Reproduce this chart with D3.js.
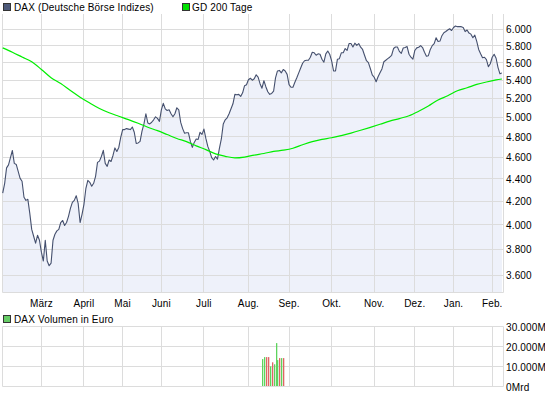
<!DOCTYPE html>
<html><head><meta charset="utf-8">
<script src="https://cdn.jsdelivr.net/npm/d3@7"></script>
<style>
body{margin:0;background:#fff}
svg{display:block}
text{font-family:"Liberation Sans",Arial,sans-serif;font-size:10px;fill:#000;letter-spacing:0.15px}
</style>
</head><body>
<svg id="c" width="545" height="395"></svg>
<script>
// ---- data (trading-day index 0 = early Feb 2009) ----
const dax = [
4270,4355,4500,4528,4597,4665,4542,4532,4468,4403,
4376,4233,4206,4215,4094,3960,3904,3848,3912,3872,
3777,3708,3872,3708,3672,3692,3872,3920,3948,3960,
4017,4034,3992,4017,4069,4137,4189,4206,4247,4180,
4017,4086,4172,4313,4385,4367,4331,4358,4421,4551,
4563,4607,4666,4542,4514,4574,4560,4617,4690,4656,
4695,4793,4872,4872,4882,4877,4872,4898,4845,4734,
4739,4754,4856,4930,5035,4940,4930,4947,4972,5003,
4987,4956,5076,5145,5087,5069,5076,5035,5003,5035,
5098,5076,4945,4882,4835,4840,4840,4754,4695,4744,
4778,4773,4845,4824,4877,4783,4705,4656,4597,4574,
4607,4582,4685,4778,4930,4972,4993,5035,5087,5140,
5242,5237,5242,5220,5259,5337,5348,5403,5420,5398,
5414,5459,5433,5359,5309,5392,5326,5270,5242,5252,
5276,5425,5503,5509,5481,5520,5503,5464,5348,5320,
5320,5376,5426,5481,5537,5592,5621,5627,5627,5662,
5720,5714,5685,5702,5697,5639,5604,5702,5736,5697,
5620,5503,5503,5639,5645,5714,5716,5765,5742,5825,
5825,5783,5830,5804,5825,5781,5754,5685,5621,5598,
5531,5459,5431,5381,5437,5481,5526,5609,5627,5645,
5662,5685,5765,5783,5783,5731,5708,5771,5777,5789,
5697,5662,5639,5742,5773,5781,5800,5777,5720,5674,
5680,5754,5800,5825,5896,5851,5855,5921,5957,5972,
5991,6007,5985,6022,6041,6033,6033,6033,6022,5972,
5991,5953,5940,5896,5927,5851,5754,5702,5656,5662,
5633,5552,5586,5662,5697,5650,5542,5470,5481
];
const gdDays = [0,5,10,15,20,25,30,35,40,45,50,55,60,65,70,75,80,85,90,95,100,105,110,115,120,125,130,135,140,145,150,155,160,165,170,175,180,185,190,195,200,205,210,215,220,225,230,235,240,245,250,255,258];
const gd200 = [5773,5721,5665,5609,5520,5426,5361,5283,5211,5148,5090,5045,5009,4974,4936,4896,4861,4822,4783,4752,4710,4673,4632,4609,4594,4602,4621,4636,4656,4668,4687,4721,4752,4774,4790,4812,4837,4865,4895,4926,4958,4985,5014,5061,5116,5181,5226,5281,5314,5351,5378,5401,5412];
const monthDays = [20,42,62,82,104,127,148,170,192,213,233,253];
const monthLabels = ["März","April","Mai","Juni","Juli","Aug.","Sep.","Okt.","Nov.","Dez.","Jan.","Feb."];
const priceTicks = [3600,3800,4000,4200,4400,4600,4800,5000,5200,5400,5600,5800,6000];
const priceTickLabels = ["3.600","3.800","4.000","4.200","4.400","4.600","4.800","5.000","5.200","5.400","5.600","5.800","6.000"];
const volDays = [134,135,136,137,138,139,140,141,142,143,144,145];
const volumes = [13700,14700,14700,14700,10100,12100,11100,21700,13200,14200,14200,14200];
const volUp = [true,true,false,false,true,false,true,true,true,false,true,false];
const volTicks = [0,10000,20000,30000];
const volTickLabels = ["0Mrd","10.000M","20.000M","30.000M"];
const legendMain = ["DAX (Deutsche Börse Indizes)","GD 200 Tage"];
const legendVol = "DAX Volumen in Euro";

// ---- layout ----
const svg = d3.select("#c");
const L = 2.5, R = 503.5, mTop = 14, mBot = 292.5, vTop = 326.5, vBot = 386.5;
const crisp = v => Math.floor(v) + 0.5;
const gridCol = "#dcdcdc";

const x = d3.scaleLinear().domain([0, dax.length - 1]).range([2.7, 501.9]);
const y = d3.scaleLog().domain([3600, 6000]).range([275.3, 29.3]);
const yv = d3.scaleLinear().domain([0, 30000]).range([vBot, vTop]);

// ---- main panel ----
const area = d3.area().x((d, i) => x(i)).y0(mBot).y1(d => y(d));
svg.append("path").datum(dax).attr("d", area).attr("fill", "#eef1fa");

const g = svg.append("g");
g.selectAll(".hg").data(priceTicks).enter().append("line")
  .attr("x1", L).attr("x2", R).attr("y1", d => crisp(y(d))).attr("y2", d => crisp(y(d)))
  .attr("stroke", gridCol);
g.selectAll(".vg").data(monthDays).enter().append("line")
  .attr("x1", d => crisp(x(d))).attr("x2", d => crisp(x(d))).attr("y1", mTop).attr("y2", mBot)
  .attr("stroke", gridCol);
g.append("path").attr("d", `M${L},${mTop}V${mBot}H${R}V${mTop}`).attr("fill", "none").attr("stroke", gridCol);

const line = d3.line().x((d, i) => x(i)).y(d => y(d));
svg.append("path").datum(dax).attr("d", line).attr("fill", "none")
  .attr("stroke", "#45506e").attr("stroke-width", 1.1).attr("stroke-linejoin", "round");

const gdLine = d3.line().x(d => x(d[0])).y(d => y(d[1])).curve(d3.curveMonotoneX);
svg.append("path").datum(gdDays.map((d, i) => [d, gd200[i]])).attr("d", gdLine)
  .attr("fill", "none").attr("stroke", "#00ee00").attr("stroke-width", 1.2);

svg.selectAll(".yl").data(priceTicks).enter().append("text")
  .attr("x", 506).attr("y", d => y(d) + 4).text((d, i) => priceTickLabels[i]);
svg.selectAll(".xl").data(monthDays).enter().append("text")
  .attr("x", d => x(d)).attr("y", 307).attr("text-anchor", "middle").text((d, i) => monthLabels[i]);

svg.append("rect").attr("x", 3.5).attr("y", 3.5).attr("width", 7).attr("height", 7)
  .attr("fill", "#4e5a7a").attr("stroke", "#333");
svg.append("text").attr("x", 14).attr("y", 11).text(legendMain[0]);
svg.append("rect").attr("x", 182.5).attr("y", 3.5).attr("width", 7).attr("height", 7)
  .attr("fill", "#00e000").attr("stroke", "#333");
svg.append("text").attr("x", 192).attr("y", 11).text(legendMain[1]);

// ---- volume panel ----
svg.append("rect").attr("x", 3.5).attr("y", 315.5).attr("width", 7).attr("height", 7)
  .attr("fill", "#66cc66").attr("stroke", "#333");
svg.append("text").attr("x", 14).attr("y", 323).text(legendVol);

const gv = svg.append("g");
gv.selectAll(".hv").data(volTicks).enter().append("line")
  .attr("x1", L).attr("x2", R).attr("y1", d => crisp(yv(d))).attr("y2", d => crisp(yv(d)))
  .attr("stroke", gridCol);
gv.selectAll(".vv").data(monthDays).enter().append("line")
  .attr("x1", d => crisp(x(d))).attr("x2", d => crisp(x(d))).attr("y1", vTop).attr("y2", vBot)
  .attr("stroke", gridCol);
gv.append("path").attr("d", `M${L},${vTop}V${vBot}M${R},${vTop}V${vBot}`).attr("stroke", gridCol);

svg.selectAll(".vb").data(volDays).enter().append("rect")
  .attr("x", d => Math.round(x(d)))
  .attr("width", 1.3)
  .attr("y", (d, i) => yv(volumes[i]))
  .attr("height", (d, i) => vBot - 0.5 - yv(volumes[i]))
  .attr("fill", (d, i) => volUp[i] ? "#5dd35d" : "#e06464");

svg.selectAll(".vl").data(volTicks).enter().append("text")
  .attr("x", 506).attr("y", d => yv(d) + 4).text((d, i) => volTickLabels[i]);
</script>
</body></html>
